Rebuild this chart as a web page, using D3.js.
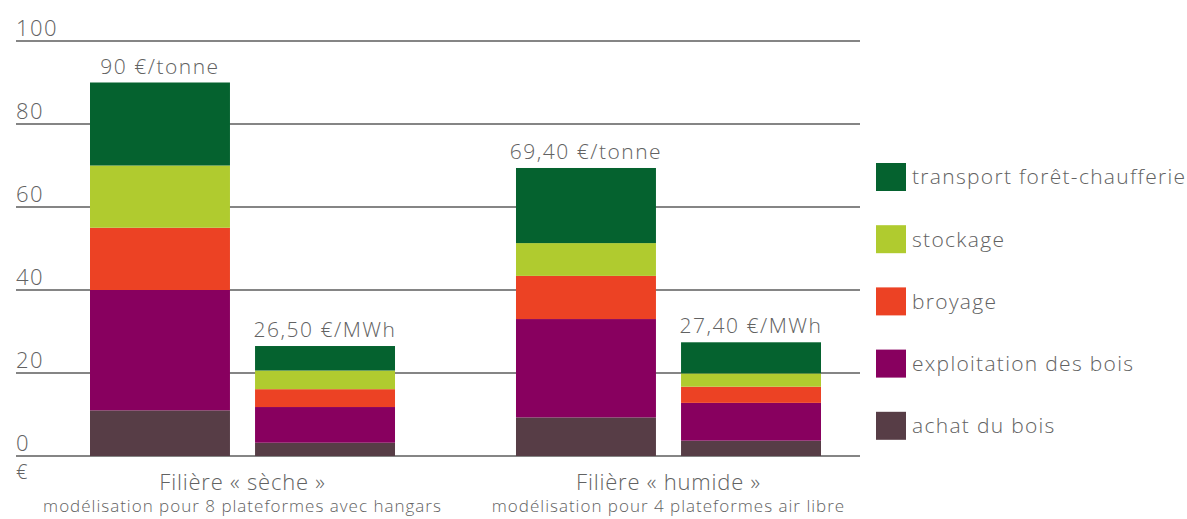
<!DOCTYPE html>
<html lang="fr">
<head>
<meta charset="utf-8">
<script src="https://cdn.jsdelivr.net/npm/d3@7"></script>
<style>
  html, body { margin: 0; padding: 0; background: #fff; }
  svg { display: block; font-family: "Open Sans", "Noto Sans", sans-serif; font-weight: 300; }
  text { fill: #626262; }
</style>
</head>
<body>
<svg id="chart" width="1187" height="519"></svg>
<script>
// Filières et unités
const filieres = ["Filière « sèche »", "Filière « humide »"];
const sousTitres = [
  "modélisation pour 8 plateformes avec hangars",
  "modélisation pour 4 plateformes air libre"
];
const unites = ["€/tonne", "€/MWh"];

// Postes de coût, du bas vers le haut de la pile
const postes = ["achat du bois", "exploitation des bois", "broyage", "stockage", "transport forêt-chaufferie"];
const couleurs = ["#573d46", "#88005f", "#ec4224", "#b0cb2f", "#05622f"];

// Coûts par poste (même ordre que postes)
const secheTonne  = [11, 29, 15, 15, 20];
const secheMWh    = [3.2, 8.6, 4.3, 4.5, 5.9];
const humideTonne = [9.3, 23.7, 10.4, 7.9, 18.1];
const humideMWh   = [3.7, 9.1, 3.9, 3.2, 7.5];

const yTicks = [0, 20, 40, 60, 80, 100];

const barres = [
  { filiere: filieres[0], unite: unites[0], valeurs: secheTonne },
  { filiere: filieres[0], unite: unites[1], valeurs: secheMWh },
  { filiere: filieres[1], unite: unites[0], valeurs: humideTonne },
  { filiere: filieres[1], unite: unites[1], valeurs: humideMWh }
];

const svg = d3.select("#chart");

const y = d3.scaleLinear().domain([0, 100]).range([456, 41]);
const x0 = d3.scaleBand().domain(filieres).range([90, 821]).paddingInner(0.284).paddingOuter(0);
const x1 = d3.scaleBand().domain(unites).range([0, x0.bandwidth()]).paddingInner(0.152).paddingOuter(0);

const fr = d3.formatLocale({ decimal: ",", thousands: " ", grouping: [3], currency: ["", " €"] });
const fmtTotal = v => Number.isInteger(Math.round(v * 100) / 100) ? fr.format("d")(Math.round(v)) : fr.format(".2f")(v);

// Grille horizontale et graduations
const gridX0 = 16, gridX1 = 860;
const grille = svg.append("g");
grille.selectAll("line").data(yTicks).join("line")
  .attr("x1", gridX0).attr("x2", gridX1)
  .attr("y1", d => y(d)).attr("y2", d => y(d))
  .attr("stroke", "#5c5c5c").attr("stroke-width", 1.6);
grille.selectAll("text").data(yTicks).join("text")
  .attr("x", gridX0).attr("y", d => y(d) - 5)
  .attr("font-size", 22).attr("letter-spacing", 1.5)
  .text(d => d);
// Unité de l'axe, sous la ligne du zéro
svg.append("text").attr("x", gridX0).attr("y", 479).attr("font-size", 20).text("€");

// Barres empilées
const pile = d3.stack().keys(d3.range(postes.length)).value((d, k) => d.valeurs[k]);
const series = pile(barres);

const gBarres = svg.append("g");
series.forEach((serie, k) => {
  gBarres.append("g").attr("fill", couleurs[k])
    .selectAll("rect").data(serie).join("rect")
      .attr("x", d => x0(d.data.filiere) + x1(d.data.unite))
      .attr("width", x1.bandwidth())
      .attr("y", d => y(d[1]))
      .attr("height", d => y(d[0]) - y(d[1]));
});

// Totaux au-dessus des barres
svg.append("g").selectAll("text").data(barres).join("text")
  .attr("x", d => x0(d.filiere) + x1(d.unite) + x1.bandwidth() / 2)
  .attr("y", d => y(d3.sum(d.valeurs)) - 9)
  .attr("text-anchor", "middle")
  .attr("font-size", 21).attr("letter-spacing", 1.5)
  .text(d => `${fmtTotal(d3.sum(d.valeurs))} ${d.unite}`);

// Libellés des filières
const gFil = svg.append("g");
gFil.selectAll("text.titre").data(filieres).join("text")
  .attr("class", "titre")
  .attr("x", d => x0(d) + x0.bandwidth() / 2)
  .attr("y", 490)
  .attr("text-anchor", "middle")
  .attr("font-size", 22).attr("letter-spacing", 0.8)
  .text(d => d);
gFil.selectAll("text.sous").data(sousTitres).join("text")
  .attr("class", "sous")
  .attr("x", (d, i) => x0(filieres[i]) + x0.bandwidth() / 2)
  .attr("y", 512)
  .attr("text-anchor", "middle")
  .attr("font-size", 17).attr("letter-spacing", 1.0)
  .text(d => d);

// Légende (ordre inverse de la pile)
const legende = svg.append("g");
const ordre = d3.range(postes.length).reverse();
const items = legende.selectAll("g").data(ordre).join("g")
  .attr("transform", (k, i) => `translate(876, ${163 + i * 62.2})`);
items.append("rect").attr("width", 30).attr("height", 28).attr("fill", k => couleurs[k]);
items.append("text").attr("x", 36).attr("y", 14).attr("dy", "0.35em")
  .attr("font-size", 21).attr("letter-spacing", 1.3).text(k => postes[k]);
</script>
</body>
</html>
